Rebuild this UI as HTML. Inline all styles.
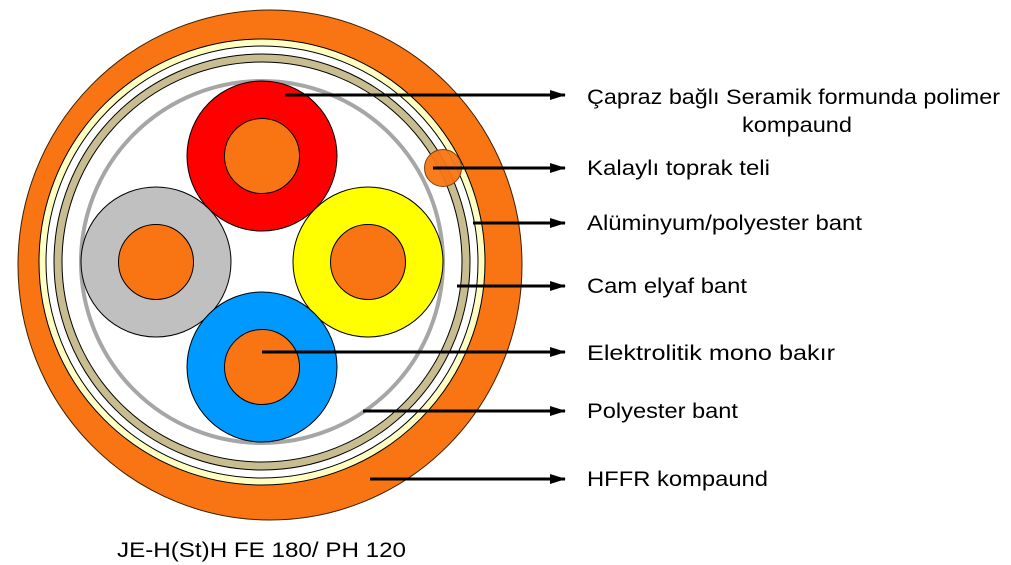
<!DOCTYPE html>
<html><head><meta charset="utf-8"><style>
html,body{margin:0;padding:0;background:#fff;}
svg{display:block;}
text{font-family:"Liberation Sans",Arial,sans-serif;font-size:21px;fill:#000;}
</style></head><body>
<svg width="1011" height="565" viewBox="0 0 1011 565" xmlns="http://www.w3.org/2000/svg">
<defs>
<marker id="ah" markerWidth="16" markerHeight="10" refX="15" refY="5" orient="auto" markerUnits="userSpaceOnUse">
<path d="M0,0 L16,5 L0,10 z" fill="#000"/>
</marker>
</defs>
<ellipse cx="270" cy="265" rx="252" ry="255" fill="#f97514" stroke="#3a2000" stroke-width="1"/>
<circle cx="262" cy="262" r="223" fill="#ffffc4" stroke="#000" stroke-width="1"/>
<circle cx="262" cy="262" r="216" fill="#fff" stroke="#000" stroke-width="1"/>
<circle cx="262" cy="262" r="208" fill="#c8bd90" stroke="#000" stroke-width="1"/>
<circle cx="262" cy="262" r="200" fill="#fff" stroke="#000" stroke-width="1"/>
<circle cx="262" cy="262" r="181" fill="none" stroke="#a6a6a6" stroke-width="4"/>
<circle cx="262" cy="156" r="75" fill="#ff0000" stroke="#000" stroke-width="1"/>
<circle cx="262" cy="156" r="37.5" fill="#f97514" stroke="#000" stroke-width="1"/>
<circle cx="156" cy="262" r="75" fill="#c0c0c0" stroke="#000" stroke-width="1"/>
<circle cx="156" cy="262" r="37.5" fill="#f97514" stroke="#000" stroke-width="1"/>
<circle cx="368" cy="262" r="75" fill="#ffff00" stroke="#000" stroke-width="1"/>
<circle cx="368" cy="262" r="37.5" fill="#f97514" stroke="#000" stroke-width="1"/>
<circle cx="262" cy="367" r="75" fill="#0099ff" stroke="#000" stroke-width="1"/>
<circle cx="262" cy="367" r="37.5" fill="#f97514" stroke="#000" stroke-width="1"/>
<circle cx="443" cy="168" r="18.5" fill="#f97514" stroke="#7a3a00" stroke-width="1" opacity="0.95"/>
<g stroke="#000" stroke-width="3" marker-end="url(#ah)">
<line x1="285" y1="95" x2="565" y2="95"/>
<line x1="433" y1="168" x2="565" y2="168"/>
<line x1="473" y1="223" x2="565" y2="223"/>
<line x1="457" y1="286" x2="565" y2="286"/>
<line x1="262" y1="352" x2="565" y2="352"/>
<line x1="363" y1="411" x2="565" y2="411"/>
<line x1="370" y1="479" x2="565" y2="479"/>
</g>
<g lengthAdjust="spacingAndGlyphs">
<text x="587" y="104" textLength="413" lengthAdjust="spacingAndGlyphs">Çapraz bağlı Seramik formunda polimer</text>
<text x="742" y="132" textLength="110" lengthAdjust="spacingAndGlyphs">kompaund</text>
<text x="587" y="175" textLength="183" lengthAdjust="spacingAndGlyphs">Kalaylı toprak teli</text>
<text x="587" y="230" textLength="275" lengthAdjust="spacingAndGlyphs">Alüminyum/polyester bant</text>
<text x="587" y="293" textLength="160" lengthAdjust="spacingAndGlyphs">Cam elyaf bant</text>
<text x="587" y="360" textLength="248" lengthAdjust="spacingAndGlyphs">Elektrolitik mono bakır</text>
<text x="587" y="418" textLength="151" lengthAdjust="spacingAndGlyphs">Polyester bant</text>
<text x="587" y="486" textLength="181" lengthAdjust="spacingAndGlyphs">HFFR kompaund</text>
<text x="117" y="557" textLength="289" lengthAdjust="spacingAndGlyphs">JE-H(St)H FE 180/ PH 120</text>
</g>
</svg>
</body></html>
